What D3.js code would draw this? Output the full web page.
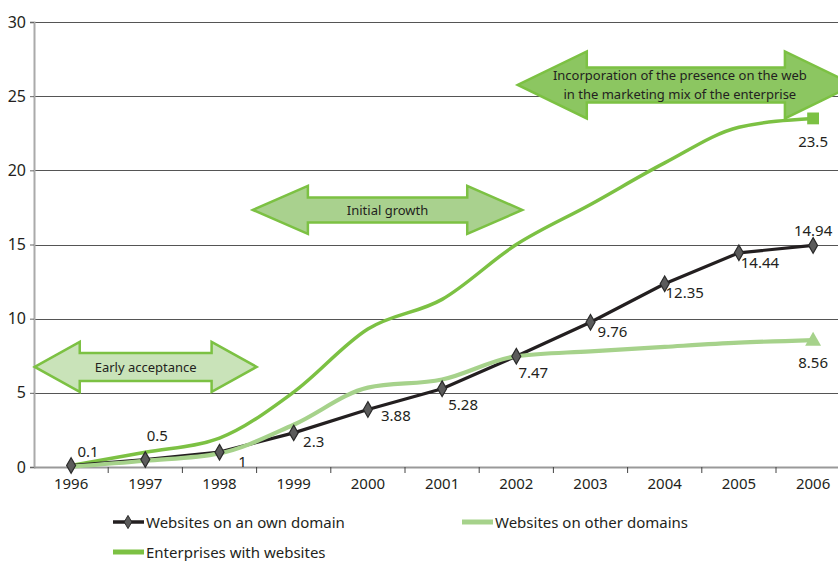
<!DOCTYPE html>
<html><head><meta charset="utf-8">
<script src="https://cdn.jsdelivr.net/npm/d3@7"></script>
<style>
html,body{margin:0;padding:0;background:#fff;overflow:hidden;}
svg{display:block;font-family:"Noto Sans","Open Sans",sans-serif;}
</style></head>
<body><svg id="chart" width="838" height="561"></svg>
<script>
// ---- data ----
const years = ["1996","1997","1998","1999","2000","2001","2002","2003","2004","2005","2006"];
const ownDomain = [0.1, 0.5, 1, 2.3, 3.88, 5.28, 7.47, 9.76, 12.35, 14.44, 14.94];
const otherDomains = [0.02, 0.42, 0.92, 2.85, 5.35, 5.9, 7.47, 7.8, 8.1, 8.38, 8.56];
const enterprises = [0.1, 1.0, 1.95, 5.05, 9.3, 11.3, 15.0, 17.7, 20.5, 22.9, 23.5];
const yTicks = [0, 5, 10, 15, 20, 25, 30];
const seriesNames = ["Websites on an own domain", "Websites on other domains", "Enterprises with websites"];
const phaseLabels = [["Early acceptance"], ["Initial growth"], ["Incorporation of the presence on the web", "in the marketing mix of the enterprise"]];
// phase spans in category-index units and their vertical centre in value units
const phaseFrom = [-0.49, 2.45, 6.02];
const phaseTo = [2.5, 6.08, 10.55];
const phaseLevel = [6.75, 17.33, 25.76];

// ---- layout ----
const svg = d3.select("#chart");
const left = 34, step = 74.2;
const x = d3.scaleBand().domain(years).range([left, left + step * years.length]).padding(0);
const xc = d => x(d) + x.bandwidth() / 2;
const xi = i => left + (i + 0.5) * step;
const y = d3.scaleLinear().domain([0, 30]).range([467, 22]);
const W = 838;

const C = { own: "#231f20", other: "#a6d28b", ent: "#7cc143", text: "#231f20" };

// gridlines
svg.append("g").selectAll("line").data(yTicks.filter(t => t > 0)).join("line")
  .attr("x1", left).attr("x2", W).attr("y1", d => Math.round(y(d)) + 0.5).attr("y2", d => Math.round(y(d)) + 0.5)
  .attr("stroke", "#555").attr("stroke-width", 1.2);

// y axis
const yAxis = svg.append("g").attr("transform", `translate(${left},0)`)
  .call(d3.axisLeft(y).tickValues(yTicks).tickSize(4).tickPadding(4));
yAxis.select(".domain").attr("stroke", "#aaa").attr("stroke-width", 2);
yAxis.selectAll(".tick line").attr("stroke", "#666");
yAxis.selectAll("text").attr("font-size", 16).attr("fill", C.text).attr("font-family", "Noto Sans");

// x axis
svg.append("line").attr("x1", left).attr("x2", W).attr("y1", y(0) + 0.5).attr("y2", y(0) + 0.5)
  .attr("stroke", "#999").attr("stroke-width", 2);
svg.append("g").selectAll("line").data(years.slice(1)).join("line")
  .attr("x1", d => x(d)).attr("x2", d => x(d)).attr("y1", y(0)).attr("y2", y(0) + 6)
  .attr("stroke", "#444").attr("stroke-width", 1);
svg.append("g").selectAll("text").data(years).join("text")
  .attr("x", d => xc(d)).attr("y", y(0) + 22).attr("text-anchor", "middle")
  .attr("font-size", 15).attr("fill", C.text).text(d => d);

// phase arrows
function arrowPath(x0, x1, yc, headLen, headH, shaftH) {
  return `M${x0},${yc} L${x0 + headLen},${yc - headH} L${x0 + headLen},${yc - shaftH} L${x1 - headLen},${yc - shaftH} L${x1 - headLen},${yc - headH} L${x1},${yc} L${x1 - headLen},${yc + headH} L${x1 - headLen},${yc + shaftH} L${x0 + headLen},${yc + shaftH} L${x0 + headLen},${yc + headH} Z`;
}
const arrowStyle = [
  { fill: "#c9e3b9", head: 45, hh: 25, sh: 14 },
  { fill: "#a9d18e", head: 55, hh: 24, sh: 12.5 },
  { fill: "#8cc661", head: 69, hh: 33.5, sh: 17.5 }
];
phaseLabels.forEach((lab, i) => {
  const s = arrowStyle[i];
  const yc = y(phaseLevel[i]);
  const x0 = xi(phaseFrom[i]), x1 = xi(phaseTo[i]);
  svg.append("path").attr("d", arrowPath(x0, x1, yc, s.head, s.hh, s.sh))
    .attr("fill", s.fill).attr("stroke", "#7cc143").attr("stroke-width", 2.5).attr("stroke-linejoin", "miter");
  const cx = (x0 + x1) / 2 - (i === 2 ? 6 : 0);
  lab.forEach((t, k) => {
    svg.append("text").attr("x", cx).attr("y", yc + 5 + (k - (lab.length - 1) / 2) * 19)
      .attr("text-anchor", "middle").attr("font-size", 13).attr("fill", C.text).text(t);
  });
});

// lines
const curve = d3.curveMonotoneX;
const pts = arr => arr.map((v, i) => [xc(years[i]), y(v)]);
svg.append("path").attr("d", d3.line().curve(curve)(pts(enterprises)))
  .attr("fill", "none").attr("stroke", C.ent).attr("stroke-width", 3.5);
svg.append("path").attr("d", d3.line()(pts(ownDomain)))
  .attr("fill", "none").attr("stroke", C.own).attr("stroke-width", 3.2);
svg.append("path").attr("d", d3.line().curve(curve)(pts(otherDomains)))
  .attr("fill", "none").attr("stroke", C.other).attr("stroke-width", 4.2);

// markers
const last = years.length - 1;
svg.append("g").selectAll("path").data(ownDomain).join("path")
  .attr("transform", (d, i) => `translate(${xc(years[i])},${y(d)})`)
  .attr("d", d3.symbol(d3.symbolDiamond, 70)).attr("fill", "#5b5b5b").attr("stroke", "#2a2a2a").attr("stroke-width", 1.2);
svg.append("path").attr("transform", `translate(${xc(years[last])},${y(enterprises[last])})`)
  .attr("d", d3.symbol(d3.symbolSquare, 140)).attr("fill", C.ent);
svg.append("path").attr("transform", `translate(${xc(years[last])},${y(otherDomains[last]) + 1})`)
  .attr("d", d3.symbol(d3.symbolTriangle, 110)).attr("fill", C.other);

// value labels
const ownNudge = [[17, -9], [12, -19], [23, 15], [20, 14], [28, 12], [21, 21], [17, 22], [22, 15], [20, 14], [21, 15], [0, -9]];
svg.append("g").selectAll("text").data(ownDomain).join("text")
  .attr("x", (d, i) => xc(years[i]) + ownNudge[i][0]).attr("y", (d, i) => y(d) + ownNudge[i][1])
  .attr("text-anchor", "middle").attr("font-size", 15).attr("fill", C.text).text(d => d);
svg.append("text").attr("x", xc(years[last])).attr("y", y(enterprises[last]) + 29)
  .attr("text-anchor", "middle").attr("font-size", 15).attr("fill", C.text).text(enterprises[last]);
svg.append("text").attr("x", xc(years[last])).attr("y", y(otherDomains[last]) + 28)
  .attr("text-anchor", "middle").attr("font-size", 15).attr("fill", C.text).text(otherDomains[last]);

// legend
const legend = [
  { name: seriesNames[0], color: C.own, x: 113, y: 522, w: 3.5, marker: true },
  { name: seriesNames[1], color: C.other, x: 462, y: 522, w: 5, marker: false },
  { name: seriesNames[2], color: C.ent, x: 113, y: 552, w: 5, marker: false }
];
legend.forEach(l => {
  svg.append("line").attr("x1", l.x).attr("x2", l.x + 31).attr("y1", l.y).attr("y2", l.y)
    .attr("stroke", l.color).attr("stroke-width", l.w);
  if (l.marker) svg.append("path").attr("transform", `translate(${l.x + 15},${l.y})`)
    .attr("d", d3.symbol(d3.symbolDiamond, 50)).attr("fill", "#5b5b5b").attr("stroke", "#2a2a2a");
  svg.append("text").attr("x", l.x + 33).attr("y", l.y + 5.5).attr("font-size", 15).attr("fill", C.text).text(l.name);
});
</script></body></html>
